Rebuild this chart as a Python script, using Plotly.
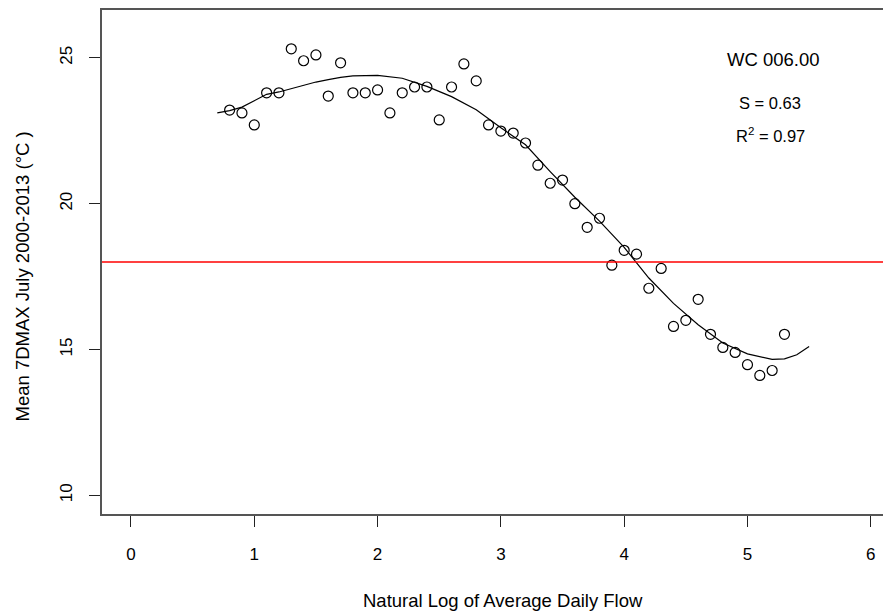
import plotly.graph_objects as go

# observed points: log flow vs mean 7DMAX
log_flow = [0.8, 0.9, 1.0, 1.1, 1.2, 1.3, 1.4, 1.5, 1.6, 1.7, 1.8, 1.9, 2.0, 2.1, 2.2, 2.3,
            2.4, 2.5, 2.6, 2.7, 2.8, 2.9, 3.0, 3.1, 3.2, 3.3, 3.4, 3.5, 3.6, 3.7, 3.8, 3.9,
            4.0, 4.1, 4.2, 4.3, 4.4, 4.5, 4.6, 4.7, 4.8, 4.9, 5.0, 5.1, 5.2, 5.3]
temp_7dmax = [23.21, 23.11, 22.70, 23.80, 23.80, 25.31, 24.90, 25.10, 23.69, 24.83, 23.80, 23.80,
              23.90, 23.11, 23.80, 24.00, 24.00, 22.87, 24.00, 24.79, 24.21, 22.70, 22.49, 22.42,
              22.08, 21.32, 20.70, 20.81, 20.00, 19.19, 19.50, 17.89, 18.40, 18.27, 17.10, 17.78,
              15.79, 16.00, 16.72, 15.52, 15.07, 14.90, 14.48, 14.11, 14.28, 15.52]

# fitted curve
fit_x = [0.7, 0.8, 0.9, 1.0, 1.1, 1.2, 1.3, 1.4, 1.5, 1.6, 1.7, 1.8, 2.0, 2.2, 2.4, 2.6,
         2.8, 3.0, 3.2, 3.4, 3.6, 3.8, 4.0, 4.2, 4.4, 4.6, 4.8, 5.0, 5.2, 5.3, 5.4, 5.5]
fit_y = [23.11, 23.19, 23.31, 23.53, 23.75, 23.83, 23.95, 24.07, 24.17, 24.25, 24.33, 24.38,
         24.40, 24.30, 24.02, 23.67, 23.22, 22.60, 22.02, 21.10, 20.22, 19.40, 18.50, 17.45,
         16.58, 15.85, 15.22, 14.85, 14.66, 14.68, 14.82, 15.10]

threshold = 18
x_ticks = [0, 1, 2, 3, 4, 5, 6]
y_ticks = [10, 15, 20, 25]

FONT = "Liberation Sans, Arial, sans-serif"

fig = go.Figure()
fig.add_trace(go.Scatter(
    x=fit_x, y=fit_y, mode='lines',
    line={'color': 'black', 'width': 1.2},
    showlegend=False,
))
fig.add_trace(go.Scatter(
    x=log_flow, y=temp_7dmax, mode='markers',
    marker={'symbol': 'circle-open', 'size': 10, 'color': 'black', 'line': {'width': 1.2}},
    showlegend=False,
))
fig.add_hline(y=threshold, line={'color': '#ff0000', 'width': 1.3})

fig.add_annotation(x=5.21, y=24.93, text="WC 006.00", showarrow=False,
                   font={'size': 18.5, 'color': 'black'})
fig.add_annotation(x=5.18, y=23.45, text="S = 0.63", showarrow=False,
                   font={'size': 16.5, 'color': 'black'})
fig.add_annotation(x=5.19, y=22.35, text="R<sup>2</sup> = 0.97", showarrow=False,
                   font={'size': 16.5, 'color': 'black'})

# axis titles placed the way R puts them
fig.add_annotation(xref='paper', yref='paper', x=0.508, y=-0.172,
                   xanchor='center', yanchor='middle',
                   text="Natural Log of Average Daily Flow", showarrow=False,
                   font={'size': 18.5, 'color': 'black'})
fig.add_annotation(xref='paper', yref='paper', x=-0.1014, y=0.4713, textangle=-90,
                   xanchor='center', yanchor='middle',
                   text="Mean 7DMAX July 2000-2013 (°C )", showarrow=False,
                   font={'size': 18.5, 'color': 'black'})

fig.update_xaxes(
    range=[-0.235, 6.164], tickvals=x_ticks, ticks='outside', ticklen=11,
    tickcolor='#222', tickwidth=1.3, showgrid=False, zeroline=False,
    showline=True, linecolor='#555', linewidth=2, mirror=True,
    ticklabelstandoff=13, tickfont={'size': 17, 'color': 'black'},
)
fig.update_yaxes(
    range=[9.36, 26.64], tickvals=y_ticks, ticks='outside', ticklen=11,
    tickcolor='#222', tickwidth=1.3, showgrid=False, zeroline=False,
    showline=True, linecolor='#555', linewidth=2, mirror=False,
    tickangle=-90, ticklabelstandoff=10, tickfont={'size': 17, 'color': 'black'},
)
# page body has an 8px margin, so shift the figure back by that much
fig.update_layout(
    width=883, height=608,
    margin={'l': 94, 'r': 0, 't': 0, 'b': 102},
    plot_bgcolor='white', paper_bgcolor='white',
    font={'family': FONT, 'color': 'black'},
)
fig.write_html("out.html")
